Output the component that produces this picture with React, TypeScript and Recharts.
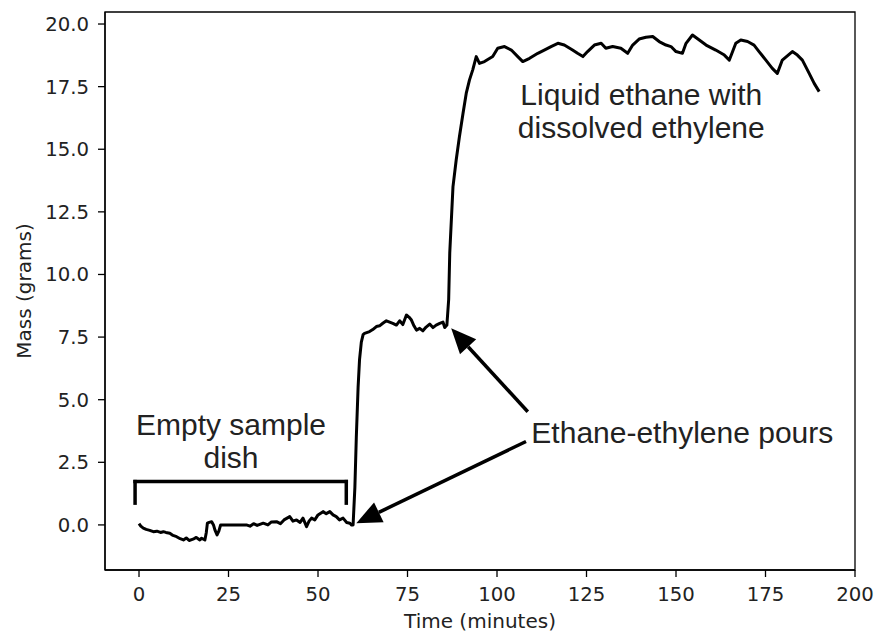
import React from 'react';
import { LineChart, Line, XAxis, YAxis, ReferenceLine, ReferenceDot, ReferenceArea } from 'recharts';

// time in minutes, mass in grams
const TIME = [
  0, 0.5, 1.2, 2, 3, 4, 5, 6, 6.8, 7.5, 8.6, 9.5, 10.5, 11.5, 12.4, 13.2, 14, 15.1, 16, 17, 17.5, 18.4, 18.8, 19.1, 19.6, 20.3, 20.8, 21.2, 21.8, 22.3, 22.8,
  30, 31, 32, 33, 34.7, 36, 37, 38.4, 39.5, 40.5, 42.1, 43, 44, 45, 45.8, 46.8, 47.5, 48.2, 49.1, 50, 51.4, 52.3, 53.3, 54.2, 55.1, 56, 57, 58, 58.9, 59.3,
  59.8, 60.3, 60.7, 61.2, 61.6, 62.1, 62.6,
  63, 64.4, 65.3, 66.3, 67.2, 68.1, 69.1, 70, 70.9, 71.9, 72.8, 73.7, 74.7, 75.4, 76.1, 76.8, 77.5, 78.4, 79.3, 80.2, 81.2, 82.1, 83, 84, 84.9, 85.4, 86,
  86.5, 86.8, 87.7, 88.6, 89.5, 90.5, 91.4, 92.3, 93.2, 94.2, 95.1, 96.5, 98.8, 100.2, 102.1, 104, 105.8, 107.2, 109.1, 111.4, 113.2, 115.1, 117, 118.8,
  121.1, 122.5, 124, 125.3, 127.2, 129.1, 130.4, 132.3, 134.6, 136.5, 137.9, 139.7, 141.6, 143.5, 145.3, 147.2, 148.6, 150, 151.8, 152.8, 154.6, 156.5,
  158.4, 161.1, 163.5, 164.9, 166.7, 168.1, 170, 171.8, 173.2, 175.1, 176.9, 178.3, 179.7, 182.5, 183.9, 185.3, 187.2, 188.6, 190,
];
const MASS = [
  0.05, -0.05, -0.13, -0.18, -0.22, -0.27, -0.25, -0.3, -0.27, -0.3, -0.33, -0.42, -0.47, -0.55, -0.6, -0.52, -0.62, -0.57, -0.5, -0.6, -0.53, -0.6, -0.3, 0.07, 0.1, 0.13, 0.0, -0.2, -0.4, -0.25, 0.0,
  0.0, -0.05, 0.05, -0.02, 0.07, 0.0, 0.12, 0.13, 0.05, 0.2, 0.33, 0.15, 0.2, 0.1, 0.27, -0.07, 0.15, 0.27, 0.2, 0.4, 0.53, 0.45, 0.53, 0.4, 0.33, 0.2, 0.27, 0.1, 0.07, 0.0,
  0.0, 1.5, 3.5, 5.5, 6.6, 7.3, 7.6,
  7.65, 7.72, 7.8, 7.92, 7.95, 8.05, 8.15, 8.1, 8.05, 7.98, 8.15, 8.0, 8.38, 8.3, 8.18, 7.95, 7.78, 7.85, 7.75, 7.9, 8.02, 7.88, 7.98, 8.05, 8.1, 7.88, 7.98,
  9.0, 10.85, 13.5, 14.57, 15.5, 16.43, 17.23, 17.76, 18.16, 18.7, 18.43, 18.5, 18.7, 19.03, 19.1, 18.96, 18.7, 18.5, 18.63, 18.83, 18.96, 19.1, 19.23, 19.16,
  18.96, 18.83, 18.7, 18.9, 19.16, 19.23, 19.03, 19.1, 19.03, 18.83, 19.16, 19.4, 19.47, 19.5, 19.3, 19.16, 19.1, 18.9, 18.83, 19.23, 19.56, 19.36,
  19.16, 18.96, 18.76, 18.56, 19.23, 19.36, 19.3, 19.16, 18.9, 18.56, 18.23, 18.03, 18.56, 18.9, 18.76, 18.56, 18.03, 17.63, 17.3,
];

const X_TICKS = [0, 25, 50, 75, 100, 125, 150, 175, 200];
const Y_TICKS = [0, 2.5, 5, 7.5, 10, 12.5, 15, 17.5, 20];
const X_DOMAIN = [-9.5, 200];
const Y_DOMAIN = [-1.8, 20.48];

// annotation anchors in data units
const BRACKET = { x1: -1.1, x2: 57.9, top: 1.73, bottom: 0.87 };
const ARROWS = [
  { from: { x: 108.6, y: 4.52 }, to: { x: 87.2, y: 7.85 } },
  { from: { x: 108.1, y: 3.33 }, to: { x: 60.7, y: 0.07 } },
];
const NOTES = [
  { x: 140.3, y: 16.77, lines: ['Liquid ethane with', 'dissolved ethylene'], anchor: 'middle' },
  { x: 25.7, y: 3.59, lines: ['Empty sample', 'dish'], anchor: 'middle' },
  { x: 109.6, y: 3.27, lines: ['Ethane-ethylene pours'], anchor: 'start' },
];

const data = TIME.map((t, i) => ({ t, m: MASS[i] }));

const tickFont = { fontFamily: 'DejaVu Sans', fontSize: 19.7, fill: '#222' };

const arrowShape = (p: any) => {
  const { x1, y1, x2, y2 } = p;
  const dx = x2 - x1, dy = y2 - y1;
  const len = Math.hypot(dx, dy);
  const ux = dx / len, uy = dy / len;
  const hl = 25, hw = 11;
  const bx = x2 - ux * hl, by = y2 - uy * hl;
  return (
    <g>
      <line x1={x1} y1={y1} x2={bx} y2={by} stroke="#000" strokeWidth={3.5} />
      <polygon points={`${x2},${y2} ${bx - uy * hw},${by + ux * hw} ${bx + uy * hw},${by - ux * hw}`} fill="#000" />
    </g>
  );
};

const noteShape = (lines: string[], anchor: string) => (p: any) => (
  <text x={p.cx} y={p.cy} textAnchor={anchor} fontFamily="Liberation Sans, Arial" fontSize={30} fill="#222">
    {lines.map((l, i) => (
      <tspan key={i} x={p.cx} dy={i === 0 ? 0 : 33}>{l}</tspan>
    ))}
  </text>
);

const yLabel = (props: any) => {
  const vb = props.viewBox;
  const cx = vb.x + 23.5;
  const cy = vb.y + vb.height / 2;
  return (
    <text x={cx} y={cy} transform={`rotate(-90 ${cx} ${cy})`} textAnchor="middle" dominantBaseline="central" fontFamily="DejaVu Sans" fontSize={20} fill="#222">
      Mass (grams)
    </text>
  );
};

export default function App() {
  return (
    <div style={{ position: 'absolute', left: 0, top: 0, background: '#fff' }}>
      <LineChart width={876} height={635} data={data} margin={{ top: 12, right: 21, left: 0, bottom: 0 }}>
        <ReferenceArea x1={X_DOMAIN[0]} x2={X_DOMAIN[1]} y1={Y_DOMAIN[0]} y2={Y_DOMAIN[1]} fill="none" stroke="#000" strokeWidth={1.3} ifOverflow="visible" />
        <XAxis
          type="number"
          dataKey="t"
          domain={X_DOMAIN}
          ticks={X_TICKS}
          allowDataOverflow
          height={65}
          tickSize={7}
          tickMargin={10}
          tick={tickFont}
          axisLine={{ stroke: '#000', strokeWidth: 1.3 }}
          tickLine={{ stroke: '#000', strokeWidth: 1.3 }}
          label={{ value: 'Time (minutes)', position: 'insideBottom', offset: 7, style: { fontFamily: 'DejaVu Sans', fontSize: 20, fill: '#222' } }}
        />
        <YAxis
          type="number"
          domain={Y_DOMAIN}
          ticks={Y_TICKS}
          allowDataOverflow
          width={105}
          tickSize={7}
          tickMargin={9}
          tick={tickFont}
          tickFormatter={(v: number) => v.toFixed(1)}
          axisLine={{ stroke: '#000', strokeWidth: 1.3 }}
          tickLine={{ stroke: '#000', strokeWidth: 1.3 }}
          label={{ content: yLabel }}
        />
        <Line type="linear" dataKey="m" stroke="#000" strokeWidth={3} dot={false} isAnimationActive={false} strokeLinejoin="round" />
        <ReferenceLine segment={[{ x: BRACKET.x1, y: BRACKET.bottom }, { x: BRACKET.x1, y: BRACKET.top }]} stroke="#000" strokeWidth={3.5} strokeLinecap="square" ifOverflow="visible" />
        <ReferenceLine segment={[{ x: BRACKET.x1, y: BRACKET.top }, { x: BRACKET.x2, y: BRACKET.top }]} stroke="#000" strokeWidth={3.5} strokeLinecap="square" ifOverflow="visible" />
        <ReferenceLine segment={[{ x: BRACKET.x2, y: BRACKET.top }, { x: BRACKET.x2, y: BRACKET.bottom }]} stroke="#000" strokeWidth={3.5} strokeLinecap="square" ifOverflow="visible" />
        {ARROWS.map((a, i) => (
          <ReferenceLine key={'a' + i} segment={[a.from, a.to]} shape={arrowShape} ifOverflow="visible" />
        ))}
        {NOTES.map((n, i) => (
          <ReferenceDot key={'n' + i} x={n.x} y={n.y} r={0} shape={noteShape(n.lines, n.anchor)} ifOverflow="visible" />
        ))}
      </LineChart>
    </div>
  );
}
